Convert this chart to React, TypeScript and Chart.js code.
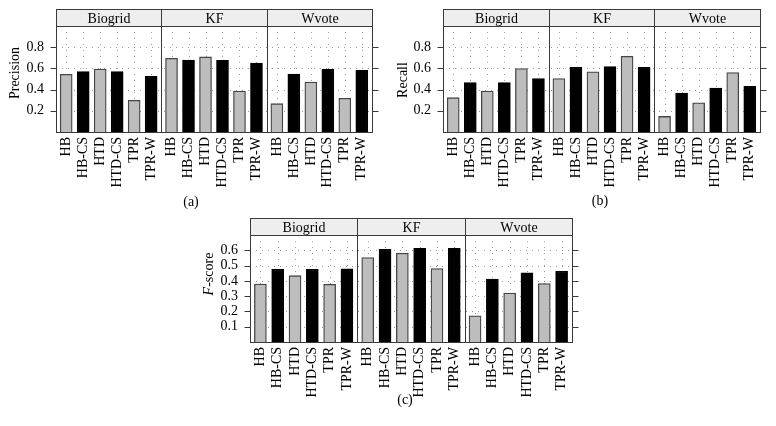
import React, { useEffect, useRef } from "react";
import { Chart, registerables } from "chart.js";
Chart.register(...registerables);

const facets = ["Biogrid", "KF", "Wvote"];
const methods = ["HB", "HB-CS", "HTD", "HTD-CS", "TPR", "TPR-W"];

const precisionBiogrid = [0.544, 0.569, 0.594, 0.569, 0.299, 0.525];
const precisionKF = [0.695, 0.679, 0.708, 0.676, 0.387, 0.651];
const precisionWvote = [0.267, 0.547, 0.472, 0.591, 0.318, 0.582];

const recallBiogrid = [0.324, 0.467, 0.387, 0.467, 0.598, 0.505];
const recallKF = [0.505, 0.611, 0.567, 0.617, 0.714, 0.611];
const recallWvote = [0.147, 0.368, 0.275, 0.415, 0.56, 0.43];

const fscoreBiogrid = [0.379, 0.476, 0.434, 0.476, 0.377, 0.478];
const fscoreKF = [0.553, 0.607, 0.581, 0.612, 0.48, 0.612];
const fscoreWvote = [0.171, 0.412, 0.32, 0.452, 0.382, 0.463];

const precisionTicks = [0.2, 0.4, 0.6, 0.8];
const recallTicks = [0.2, 0.4, 0.6, 0.8];
const fscoreTicks = [0.1, 0.2, 0.3, 0.4, 0.5, 0.6];

const FONT = "'Liberation Serif', 'Times New Roman', serif";
const FS = 14;
const SPAN = 6.2;
const PAD = 0.6;
const GRAY = "#bdbdbd";
const FRAME = "#3a3a3a";

type Geo = {
  left: number; top: number; width: number; height: number;
  plotLeft: number; plotRight: number; plotTop: number; plotBottom: number;
  capX: number; capY: number; titleX: number; titleY: number;
};

type PanelProps = {
  series: number[][];
  yMax: number;
  yTicks: number[];
  titleItalic: string;
  titleRest: string;
  caption: string;
  geo: Geo;
};

function Panel({ series, yMax, yTicks, titleItalic, titleRest, caption, geo }: PanelProps) {
  const ref = useRef<HTMLCanvasElement | null>(null);
  useEffect(() => {
    const canvas = ref.current;
    if (!canvas) return;
    const xs: number[] = [];
    const labels: string[] = [];
    const points: { x: number; y: number }[] = [];
    const fills: string[] = [];
    const borders: string[] = [];
    series.forEach((vals, f) => {
      vals.forEach((v, i) => {
        const x = f * SPAN + PAD + i;
        xs.push(x);
        labels.push(methods[i]);
        points.push({ x, y: v });
        const black = i % 2 === 1;
        fills.push(black ? "#000000" : GRAY);
        borders.push(black ? "#000000" : "#454545");
      });
    });

    const lattice = {
      id: "lattice",
      beforeDatasetsDraw(chart: any) {
        const { ctx, chartArea: a, scales } = chart;
        ctx.save();
        ctx.strokeStyle = "#9c9c9c";
        ctx.lineWidth = 1;
        ctx.setLineDash([1, 5]);
        xs.forEach((x) => {
          const px = Math.round(scales.x.getPixelForValue(x)) + 0.5;
          ctx.beginPath();
          ctx.moveTo(px, a.top);
          ctx.lineTo(px, a.bottom);
          ctx.stroke();
        });
        yTicks.forEach((t) => {
          const py = Math.round(scales.y.getPixelForValue(t)) + 0.5;
          ctx.beginPath();
          ctx.moveTo(a.left, py);
          ctx.lineTo(a.right, py);
          ctx.stroke();
        });
        ctx.restore();
      },
      afterDraw(chart: any) {
        const { ctx, chartArea: a, scales } = chart;
        ctx.save();
        ctx.setLineDash([]);
        ctx.lineWidth = 1;
        ctx.strokeStyle = FRAME;
        const stripH = 17;
        const bounds = [0, 1, 2, 3].map((f) => Math.round(scales.x.getPixelForValue(f * SPAN)) + 0.5);
        const top = Math.round(a.top) + 0.5;
        const bot = Math.round(a.bottom) + 0.5;
        for (let f = 0; f < 3; f++) {
          const x0 = bounds[f];
          const x1 = bounds[f + 1];
          const y0 = top - stripH;
          ctx.fillStyle = "#eeeeee";
          ctx.fillRect(x0, y0, x1 - x0, stripH);
          ctx.strokeRect(x0, y0, x1 - x0, stripH);
          ctx.fillStyle = "#000";
          ctx.font = `${FS}px ${FONT}`;
          ctx.textAlign = "center";
          ctx.textBaseline = "middle";
          ctx.fillText(facets[f], (x0 + x1) / 2, y0 + stripH / 2 + 1);
        }
        ctx.strokeRect(bounds[0], top, bounds[3] - bounds[0], bot - top);
        for (let f = 1; f < 3; f++) {
          ctx.beginPath();
          ctx.moveTo(bounds[f], top);
          ctx.lineTo(bounds[f], bot);
          ctx.stroke();
        }
        yTicks.forEach((t) => {
          const py = Math.round(scales.y.getPixelForValue(t)) + 0.5;
          ctx.beginPath();
          ctx.moveTo(bounds[0] - 6, py);
          ctx.lineTo(bounds[0], py);
          ctx.moveTo(bounds[3], py);
          ctx.lineTo(bounds[3] + 6, py);
          ctx.stroke();
        });
        ctx.fillStyle = "#000";
        ctx.textBaseline = "middle";
        ctx.textAlign = "left";
        ctx.translate(geo.titleX, geo.titleY);
        ctx.rotate(-Math.PI / 2);
        ctx.font = `italic ${FS}px ${FONT}`;
        const w1 = titleItalic ? ctx.measureText(titleItalic).width : 0;
        ctx.font = `${FS}px ${FONT}`;
        const w2 = ctx.measureText(titleRest).width;
        let sx = -(w1 + w2) / 2;
        if (titleItalic) {
          ctx.font = `italic ${FS}px ${FONT}`;
          ctx.fillText(titleItalic, sx, 0);
          sx += w1;
        }
        ctx.font = `${FS}px ${FONT}`;
        ctx.fillText(titleRest, sx, 0);
        ctx.setTransform(1, 0, 0, 1, 0, 0);
        ctx.textAlign = "center";
        ctx.font = `${FS}px ${FONT}`;
        ctx.fillText(caption, geo.capX, geo.capY);
        ctx.restore();
      },
    };

    const chart = new Chart(canvas, {
      type: "bar",
      data: {
        datasets: [
          {
            data: points as any,
            backgroundColor: fills,
            borderColor: borders,
            borderWidth: 1.3,
            barThickness: 12,
            grouped: false,
          } as any,
        ],
      },
      options: {
        responsive: false,
        animation: false,
        devicePixelRatio: 1,
        layout: {
          padding: { top: geo.plotTop, right: geo.width - geo.plotRight, left: 0, bottom: 0 },
        },
        plugins: { legend: { display: false }, tooltip: { enabled: false } },
        scales: {
          x: {
            type: "linear",
            offset: false,
            min: 0,
            max: 3 * SPAN,
            grid: { display: false, drawTicks: false, offset: false },
            border: { display: false },
            afterBuildTicks: (s: any) => {
              s.ticks = xs.map((v) => ({ value: v }));
            },
            afterFit: (s: any) => {
              s.height = geo.height - geo.plotBottom;
              s.paddingLeft = 0;
              s.paddingRight = 0;
            },
            ticks: {
              autoSkip: false,
              minRotation: 90,
              maxRotation: 90,
              padding: 5,
              color: "#000",
              font: { family: FONT, size: FS },
              callback: (_v: any, i: number) => labels[i],
            },
          },
          y: {
            min: 0,
            max: yMax,
            grid: { display: false, drawTicks: false },
            border: { display: false },
            afterBuildTicks: (s: any) => {
              s.ticks = yTicks.map((v) => ({ value: v }));
            },
            afterFit: (s: any) => {
              s.width = geo.plotLeft;
              s.paddingTop = 0;
              s.paddingBottom = 0;
            },
            ticks: {
              padding: 12,
              color: "#000",
              font: { family: FONT, size: FS },
              callback: (v: any) => Number(v).toFixed(1),
            },
          },
        } as any,
      },
      plugins: [lattice as any],
    });
    return () => chart.destroy();
  }, []);
  return (
    <canvas
      ref={ref}
      width={geo.width}
      height={geo.height}
      style={{ position: "absolute", left: geo.left, top: geo.top, width: geo.width, height: geo.height }}
    />
  );
}

const geoA: Geo = { left: 0, top: 0, width: 388, height: 210, plotLeft: 56, plotRight: 372, plotTop: 26, plotBottom: 132, capX: 191, capY: 202, titleX: 15, titleY: 73 };
const geoB: Geo = { left: 388, top: 0, width: 388, height: 210, plotLeft: 55, plotRight: 372, plotTop: 26, plotBottom: 132, capX: 212, capY: 201, titleX: 15, titleY: 80 };
const geoC: Geo = { left: 190, top: 210, width: 400, height: 216, plotLeft: 60, plotRight: 382, plotTop: 25, plotBottom: 132, capX: 215, capY: 190, titleX: 19, titleY: 64 };

export default function App() {
  return (
    <div style={{ position: "absolute", left: 0, top: 0, width: 776, height: 426, background: "#fff" }}>
      <Panel series={[precisionBiogrid, precisionKF, precisionWvote]} yMax={1} yTicks={precisionTicks} titleItalic="" titleRest="Precision" caption="(a)" geo={geoA} />
      <Panel series={[recallBiogrid, recallKF, recallWvote]} yMax={1} yTicks={recallTicks} titleItalic="" titleRest="Recall" caption="(b)" geo={geoB} />
      <Panel series={[fscoreBiogrid, fscoreKF, fscoreWvote]} yMax={0.7} yTicks={fscoreTicks} titleItalic="F" titleRest="-score" caption="(c)" geo={geoC} />
    </div>
  );
}
